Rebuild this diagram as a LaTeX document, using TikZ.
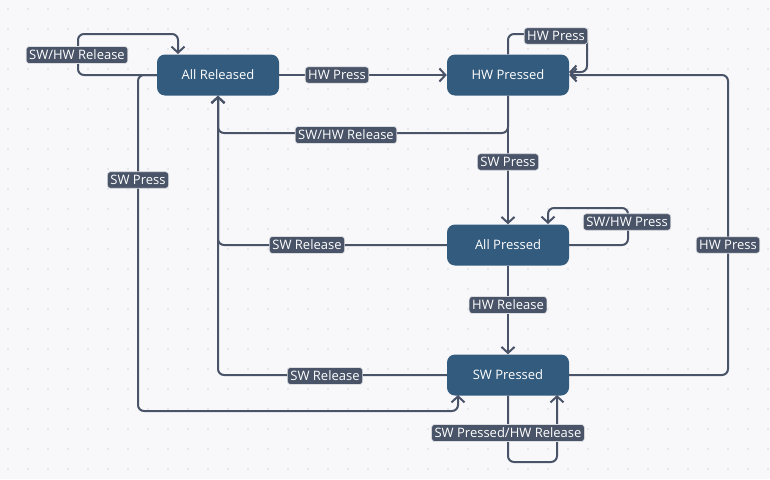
\documentclass[tikz,border=0pt]{standalone}
\usepackage{fontspec}
\setmainfont{Open Sans}
\usetikzlibrary{arrows.meta}
\definecolor{statefill}{HTML}{335B7D}
\definecolor{labelfill}{HTML}{4A5468}
\definecolor{bgcol}{HTML}{F8F8FB}
\definecolor{dotcol}{HTML}{D6D8DE}
\tikzset{
    state/.style={rectangle, rounded corners=8pt, fill=statefill, text=white,
        minimum width=122pt, minimum height=41pt, font=\fontsize{13}{15}\selectfont},
    trans/.style={rectangle, rounded corners=3pt, fill=labelfill, draw=white!80!labelfill,
        line width=0.6pt, text=white, inner xsep=3pt, inner ysep=3.5pt,
        font=\fontsize{13}{15}\selectfont},
    edge/.style={draw=labelfill, line width=2pt, rounded corners=6pt,
        -{Straight Barb[length=6pt,width=13pt]}}
}
\begin{document}
\begin{tikzpicture}[x=1pt,y=-1pt]
    % Background
    \fill[bgcol] (0,0) rectangle (770,479);
    \useasboundingbox (0,0) rectangle (770,479);
    \foreach \x in {8,28,...,768} {
        \foreach \y in {9,29,...,469} {
            \fill[dotcol] (\x,\y) circle (0.9pt);
        }
    }

    % States
    \node[state] (rel) at (218,75) {All Released};
    \node[state] (hwp) at (508,75) {HW Pressed};
    \node[state] (allp) at (508,245) {All Pressed};
    \node[state] (swp) at (508,375) {SW Pressed};

    % Transitions
    \draw[edge] (rel.west) -- (78,75) -- (78,34) -- (178,34) -- (178,54);
    \node[trans] (l1) at (77,55) {SW/HW Release};

    \draw[edge] (rel.east) -- (hwp.west);
    \node[trans] (l2) at (337,75) {HW Press};

    \draw[edge] (hwp.south) -- (508,133) -- (218,133) -- (rel.south);
    \node[trans] (l3) at (346,135) {SW/HW Release};

    \draw[edge] (hwp.north) -- (508,34) -- (587,34) -- (587,72) -- (569,72);
    \node[trans] (l4) at (556,36) {HW Press};

    \draw[edge] (hwp.south) -- (allp.north);
    \node[trans] (l5) at (508,162) {SW Press};

    \draw[edge] (allp.west) -- (218,245) -- (rel.south);
    \node[trans] (l6) at (307,245) {SW Release};

    \draw[edge] (allp.east) -- (628,245) -- (628,208) -- (548,208) -- (548,224);
    \node[trans] (l7) at (627,222) {SW/HW Press};

    \draw[edge] (allp.south) -- (swp.north);
    \node[trans] (l8) at (508,305) {HW Release};

    \draw[edge] (swp.west) -- (218,375) -- (rel.south);
    \node[trans] (l9) at (325,376) {SW Release};

    \draw[edge] (swp.east) -- (728,375) -- (728,75) -- (hwp.east);
    \node[trans] (l10) at (728,245) {HW Press};

    \draw[edge] (157,75) -- (138,75) -- (138,411) -- (458,411) -- (458,395);
    \node[trans] (l11) at (138,180) {SW Press};

    \draw[edge] (swp.south) -- (508,462) -- (557,462) -- (557,395);
    \node[trans] (l12) at (508,433) {SW Pressed/HW Release};
\end{tikzpicture}
\end{document}
